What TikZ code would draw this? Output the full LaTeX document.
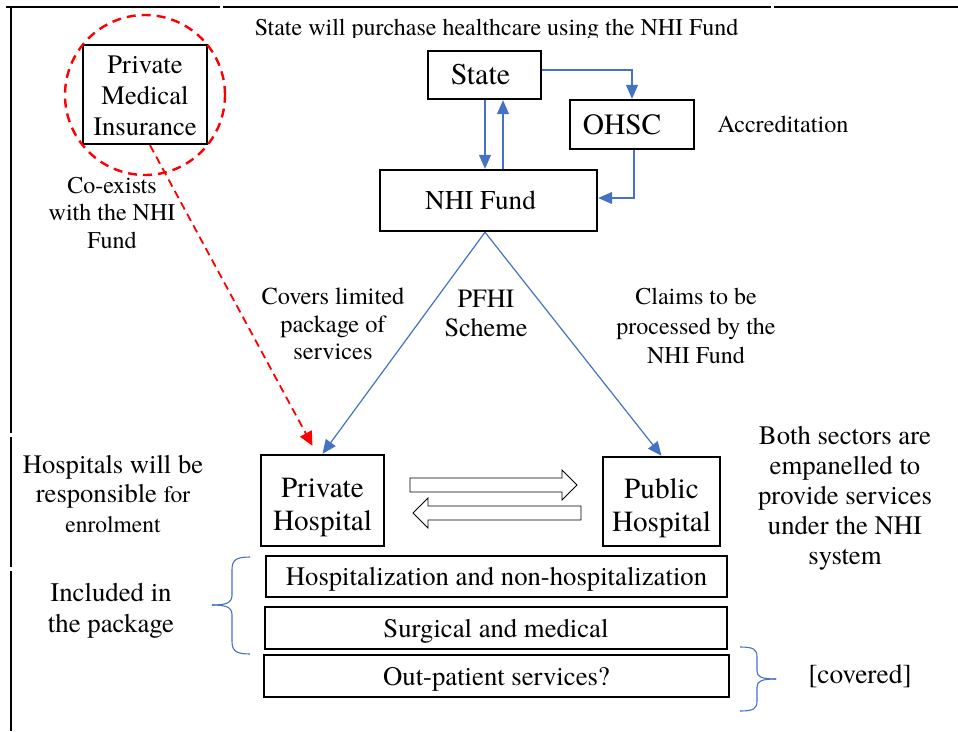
\documentclass[tikz,border=0pt]{standalone}
\usepackage{fontspec}
\setmainfont{texgyretermes}[Extension=.otf, UprightFont=*-regular, BoldFont=*-bold, ItalicFont=*-italic, BoldItalicFont=*-bolditalic]
\usetikzlibrary{arrows.meta,calc}
\definecolor{flowblue}{RGB}{68,114,196}
\newcommand{\topstrut}[1]{\rule{0pt}{#1}}
\tikzset{
  box/.style={draw=black, line width=2.4pt, inner sep=0pt, align=center},
  lbl/.style={inner sep=0pt, align=center, font=\fontsize{24.2}{28}\selectfont},
  rowtext/.style={font=\fontsize{26.7}{30}\selectfont, text height=24pt, text depth=6pt},
  flow/.style={draw=flowblue, line width=1.2pt, -{Triangle[length=14pt,width=12pt]}, color=flowblue},
  hollow/.style={draw=black, line width=0.9pt, fill=white},
  frameline/.style={line width=2.6pt, line cap=butt},
  bracestyle/.style={draw=flowblue, line width=1.1pt}
}
\begin{document}
\begin{tikzpicture}[x=1pt,y=-1pt]
\useasboundingbox (0,0) rectangle (958,731);

% outer frame (top and left edges only, in segments)
\draw[frameline] (6,7) -- (220,7);
\draw[frameline] (223,7) -- (771,7);
\draw[frameline] (774,7) -- (958,7);
\draw[frameline] (11,7) -- (11,433);
\draw[frameline] (11,437) -- (11,567);
\draw[frameline] (11,571) -- (11,731);

% heading, cut off at its lower edge
\begin{scope}
\clip (200,12) rectangle (800,37.5);
\node[lbl, font=\fontsize{24}{28}\selectfont, anchor=base] (title) at (496.5,35) {State will purchase healthcare using the NHI Fund};
\end{scope}

% private insurance with its dashed ring
\node[box, minimum width=124pt, minimum height=99pt, font=\fontsize{26.6}{31}\selectfont] (pmi) at (145,94.5) {\topstrut{21pt}Private\\Medical\\Insurance};
\node[draw=red, dashed, dash pattern=on 9pt off 6pt, line width=2.4pt, circle, minimum size=160pt, inner sep=0pt] (ring) at (145,95) {};
\node[lbl, font=\fontsize{24}{27.5}\selectfont] (coexist) at (112,213) {Co-exists\\with the NHI\\Fund};

% funding structure
\node[box, minimum width=113pt, minimum height=48pt, font=\fontsize{30}{33}\selectfont] (state) at (484.5,75) {\hspace*{-8pt}State};
\node[box, minimum width=124pt, minimum height=49pt, font=\fontsize{29.4}{33}\selectfont] (ohsc) at (632,124.5) {\hspace*{-20pt}OHSC};
\node[lbl] (accr) at (783,124) {Accreditation};
\node[box, minimum width=217pt, minimum height=61pt, font=\fontsize{27.2}{30}\selectfont] (fund) at (488.5,200.5) {\hspace*{-16pt}NHI Fund};

\draw[flow] (state.east |- 0,70) -| (ohsc.north -| 632,0);
\draw[flow] (ohsc.south -| 634,0) |- (fund.east |- 0,198);
\draw[flow] (state.south -| 485,0) -- (fund.north -| 485,0);
\draw[flow] (fund.north -| 503,0) -- (state.south -| 503,0);

% hospitals
\node[box, minimum width=123pt, minimum height=91pt, font=\fontsize{29.2}{33}\selectfont] (priv) at (322.5,500.5) {\topstrut{33pt}Private\\Hospital};
\node[box, minimum width=117pt, minimum height=89pt, font=\fontsize{29.2}{33}\selectfont] (pub) at (661.5,501.5) {\topstrut{34pt}Public\\Hospital};

\draw[flow] (fund.south -| 485,0) -- (priv.north);
\draw[flow] (fund.south -| 485,0) -- (pub.north);
\draw[draw=red, dashed, dash pattern=on 8pt off 5pt, line width=1.8pt, -{Triangle[length=14pt,width=13pt]}, color=red] (pmi.south -| 150,0) -- ($(priv.north)+(-10,-8)$);

\node[lbl, font=\fontsize{24.4}{27.5}\selectfont] (covers) at (333,324) {Covers limited\\package of\\services};
\node[lbl, font=\fontsize{26.3}{29}\selectfont] (pfhi) at (486,313) {PFHI\\Scheme};
\node[lbl, font=\fontsize{24}{29.5}\selectfont] (claims) at (696,326) {Claims to be\\processed by the\\NHI Fund};

% exchange between the two sectors
\coordinate (exA) at (410,485);
\coordinate (exB) at (581,513);
\draw[hollow] (exA) ++(0,-7) -- ++(152,0) -- ++(0,-8) -- ++(15,15) -- ++(-15,15) -- ++(0,-8) -- ++(-152,0) -- cycle;
\draw[hollow] (exB) ++(0,-7) -- ++(-153,0) -- ++(0,-8) -- ++(-15,15) -- ++(15,15) -- ++(0,-8) -- ++(153,0) -- cycle;

\node[lbl, font=\fontsize{26.6}{29.5}\selectfont] (enrol) at (113,494) {Hospitals will be\\responsible {\fontsize{23.5}{26}\selectfont for}\\{\fontsize{23.5}{26}\selectfont enrolment}};
\node[lbl, font=\fontsize{26.7}{30}\selectfont] (both) at (845,498) {Both sectors are\\empanelled to\\provide services\\under the NHI\\system};

% package contents
\node[box, rowtext, minimum width=461pt, minimum height=41pt] (hosp) at (496.5,576.5) {Hospitalization and non-hospitalization};
\node[box, rowtext, minimum width=462pt, minimum height=42pt] (surg) at (496,628) {Surgical and medical};
\node[box, rowtext, minimum width=465pt, minimum height=42pt] (outp) at (496.5,676) {Out-patient services?};

\coordinate (lbTop) at (250,557);
\coordinate (lbBot) at (250,654);
\draw[bracestyle] (lbTop) .. controls (236,557) and (232,560) .. (232,570) -- (232,595) .. controls (232,603) and (226,605) .. (212,605);
\draw[bracestyle] (lbBot) .. controls (236,654) and (232,651) .. (232,641) -- (232,615) .. controls (232,607) and (226,605) .. (212,605);
\coordinate (rbTop) at (740,647);
\coordinate (rbBot) at (740,711);
\draw[bracestyle] (rbTop) .. controls (753,647) and (757,649) .. (757,657) -- (757,671) .. controls (757,677) and (762,679) .. (776,679);
\draw[bracestyle] (rbBot) .. controls (753,711) and (757,709) .. (757,701) -- (757,687) .. controls (757,681) and (762,679) .. (776,679);

\node[lbl, font=\fontsize{26.8}{31}\selectfont] (incl) at (111,611) {Included in\\the package};
\node[lbl, font=\fontsize{27.5}{30}\selectfont] (cov) at (860,676) {[covered]};
\end{tikzpicture}
\end{document}
